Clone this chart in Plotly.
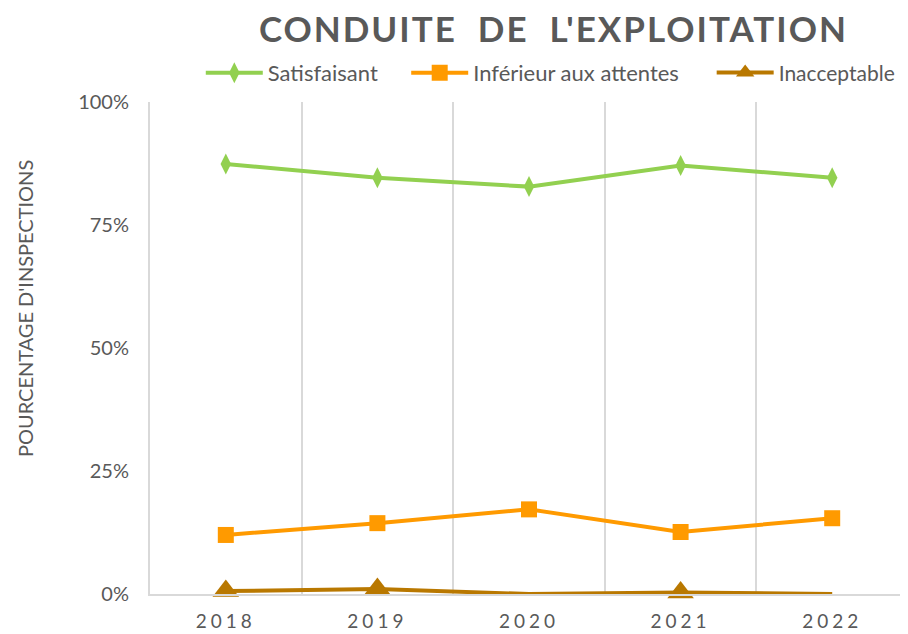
import plotly.graph_objects as go

annees = ["2018", "2019", "2020", "2021", "2022"]
satisfaisant = [87.4, 84.6, 82.8, 87.1, 84.6]
inferieur = [12.0, 14.4, 17.2, 12.6, 15.4]
inacceptable = [0.6, 1.0, 0.0, 0.3, 0.0]

GRIS = "#595959"
POLICE = "Lato"
VERT, ORANGE, BRUN = "#92D050", "#FF9A00", "#B97800"

fig = go.Figure()
fig.add_trace(go.Scatter(
    x=annees, y=satisfaisant, name="Satisfaisant", mode="lines+markers", cliponaxis=False,
    line=dict(color=VERT, width=4),
    marker=dict(symbol="diamond-tall", size=15, color=VERT),
    legend="legend",
))
fig.add_trace(go.Scatter(
    x=annees, y=inferieur, name="Inférieur aux attentes", mode="lines+markers", cliponaxis=False,
    line=dict(color=ORANGE, width=4),
    marker=dict(symbol="square", size=16, color=ORANGE),
    legend="legend2",
))
# pas de marqueur visible quand la valeur est nulle
fig.add_trace(go.Scatter(
    x=annees, y=inacceptable, name="Inacceptable", mode="lines+markers", cliponaxis=False,
    line=dict(color=BRUN, width=4),
    marker=dict(symbol="triangle-up", size=23,
                color=[BRUN if v > 0 else "rgba(0,0,0,0)" for v in inacceptable]),
    legend="legend3",
))

leg = dict(orientation="h", y=1.059, yanchor="middle", xanchor="left",
           font=dict(size=22, color=GRIS), itemwidth=57, bgcolor="rgba(0,0,0,0)")

# la page ajoute une marge de 8 px autour du graphique
fig.update_layout(
    width=900, height=626,
    template="plotly_white",
    paper_bgcolor="white", plot_bgcolor="white",
    margin=dict(l=142, r=0, t=94, b=40),
    font=dict(family=POLICE, size=20, color=GRIS),
    title=dict(
        text="<b><span style='letter-spacing:2px'>CONDUITE  DE  L'EXPLOITATION</span></b>",
        x=0.606, xanchor="center", y=0.965, yanchor="middle",
        font=dict(family=POLICE, size=35, color=GRIS),
    ),
    legend=dict(leg, x=0.067),
    legend2=dict(leg, x=0.338),
    legend3=dict(leg, x=0.741, font=dict(size=21, color=GRIS)),
    showlegend=True,
    annotations=[dict(
        text="POURCENTAGE D'INSPECTIONS", textangle=-90, showarrow=False,
        xref="paper", yref="paper", x=-0.165, y=0.581, xanchor="center", yanchor="middle",
        font=dict(size=20, color=GRIS),
    )],
)
fig.update_xaxes(
    type="category", range=[-0.5, 4.5], tickson="boundaries",
    showgrid=True, gridcolor="#d9d9d9", gridwidth=2,
    showline=True, linecolor="#d9d9d9", linewidth=2, ticks="", zeroline=False,
    tickvals=annees,
    ticktext=[f"<span style='letter-spacing:4px'>{a}</span>" for a in annees],
    tickfont=dict(size=19, color=GRIS), ticklabelstandoff=9,
)
fig.update_yaxes(
    range=[0, 100], tickvals=[0, 25, 50, 75, 100], ticktext=["0%", "25%", "50%", "75%", "100%"],
    showgrid=False, showline=True, linecolor="#d9d9d9", linewidth=2, zeroline=False,
    ticks="", ticklabelstandoff=15, tickfont=dict(size=20, color=GRIS),
)

fig.write_html("out.html")
